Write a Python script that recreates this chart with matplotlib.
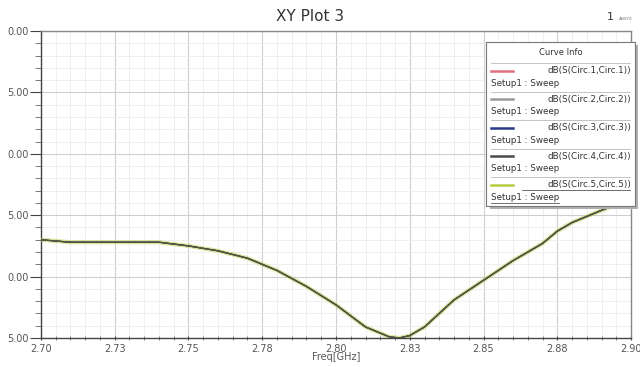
import matplotlib.pyplot as plt
from matplotlib.ticker import MultipleLocator
from matplotlib.patches import Rectangle

# frequency sweep (GHz) and return loss (dB)
freq = [2.700, 2.710, 2.740, 2.750, 2.760, 2.770, 2.780, 2.790, 2.800, 2.810,
        2.818, 2.8215, 2.825, 2.830, 2.840, 2.850, 2.860, 2.870, 2.875, 2.880,
        2.890, 2.900]
s_db = [-27.0, -27.2, -27.2, -27.5, -27.9, -28.5, -29.5, -30.8, -32.3, -34.1,
        -34.9, -35.0, -34.8, -34.1, -31.9, -30.3, -28.7, -27.3, -26.3, -25.6,
        -24.6, -23.7]

x_ticks = [2.700, 2.725, 2.750, 2.775, 2.800, 2.825, 2.850, 2.875, 2.900]
x_labels = ['2.70', '2.73', '2.75', '2.78', '2.80', '2.83', '2.85', '2.88', '2.90']
y_ticks = [-10, -15, -20, -25, -30, -35]
# labels are cut off at the left border in the original
y_labels = ['0.00', '5.00', '0.00', '5.00', '0.00', '5.00']

curve_names = ['dB(S(Circ.1,Circ.1))', 'dB(S(Circ.2,Circ.2))', 'dB(S(Circ.3,Circ.3))',
               'dB(S(Circ.4,Circ.4))', 'dB(S(Circ.5,Circ.5))']
curve_colors = ['#e07080', '#9a9a9a', '#2a3a8a', '#4a4a4a', '#b8cc40']

fig = plt.figure(figsize=(6.4, 3.67), dpi=100)
ax = fig.add_axes([0.064, 0.079, 0.922, 0.8365])

# all five curves lie on top of each other
ax.plot(freq, s_db, color=curve_colors[4], lw=3.0, alpha=0.5, zorder=3)
for c in curve_colors[:4]:
    ax.plot(freq, s_db, color=c, lw=0.8, zorder=4)
ax.plot(freq, s_db, color='#4d5a3a', lw=1.0, zorder=5)

ax.set_xlim(2.70, 2.90)
ax.set_ylim(-35, -10)
ax.set_xticks(x_ticks)
ax.set_xticklabels(x_labels)
ax.set_yticks(y_ticks)
ax.set_yticklabels(y_labels)
ax.xaxis.set_minor_locator(MultipleLocator(0.005))
ax.yaxis.set_minor_locator(MultipleLocator(1))

ax.grid(which='major', color='#cfcfcf', lw=0.8)
ax.grid(which='minor', color='#ececec', lw=0.6)
ax.set_axisbelow(True)

ax.tick_params(axis='both', which='major', labelsize=7, labelcolor='#555555',
               color='#444444', width=0.8)
ax.tick_params(axis='y', which='major', length=8, pad=1)
ax.tick_params(axis='y', which='minor', color='#666666', length=4, width=0.6)
ax.tick_params(axis='x', which='major', length=3, pad=2.5, direction='inout')
ax.tick_params(axis='x', which='minor', color='#666666', length=3, width=0.6, direction='inout')

for s in ['left', 'bottom']:
    ax.spines[s].set_color('#444444')
    ax.spines[s].set_linewidth(1.0)
for s in ['top', 'right']:
    ax.spines[s].set_color('#888888')
    ax.spines[s].set_linewidth(1.0)

ax.set_xlabel('Freq[GHz]', fontsize=7, color='#555555', labelpad=-1.2)
fig.text(0.485, 0.955, 'XY Plot 3', fontsize=11, color='#333333', ha='center', va='center')
fig.text(0.953, 0.955, '1', fontsize=8, color='#333333', ha='center', va='center')
fig.text(0.978, 0.948, 'ANSYS', fontsize=3, color='#777777', ha='center', va='center')

# "Curve Info" box drawn by hand like the HFSS legend
bx0, by0, bw, bh = 0.7545, 0.431, 0.252, 0.534
ax.add_patch(Rectangle((bx0 + 0.006, by0 - 0.012), bw, bh, transform=ax.transAxes,
                       facecolor='#b0b0b0', edgecolor='none', zorder=8, clip_on=False))
ax.add_patch(Rectangle((bx0, by0), bw, bh, transform=ax.transAxes,
                       facecolor='white', edgecolor='#777777', lw=0.8, zorder=9, clip_on=False))
ax.text(bx0 + bw / 2, by0 + bh - 0.035, 'Curve Info', transform=ax.transAxes,
        fontsize=6, color='#333333', ha='center', va='center', zorder=10)
row_h = (bh - 0.07) / len(curve_names)
for i, (name, c) in enumerate(zip(curve_names, curve_colors)):
    top = by0 + bh - 0.07 - i * row_h
    ax.plot([bx0 + 0.008, bx0 + bw - 0.008], [top, top], transform=ax.transAxes,
            color='#aaaaaa', lw=0.5, zorder=10, clip_on=False)
    ax.plot([bx0 + 0.008, bx0 + 0.045], [top - 0.025, top - 0.025], transform=ax.transAxes,
            color=c, lw=1.8, zorder=10, clip_on=False)
    ax.text(bx0 + bw - 0.006, top - 0.025, name, transform=ax.transAxes,
            fontsize=6.3, color='#333333', ha='right', va='center', zorder=10)
    ax.text(bx0 + 0.008, top - 0.066, 'Setup1 : Sweep', transform=ax.transAxes,
            fontsize=6.3, color='#333333', ha='left', va='center', zorder=10)
    if i == len(curve_names) - 1:
        ax.plot([bx0 + 0.06, bx0 + bw - 0.006], [top - 0.043, top - 0.043],
                transform=ax.transAxes, color='#333333', lw=0.5, zorder=10)
        ax.plot([bx0 + 0.008, bx0 + 0.123], [top - 0.084, top - 0.084],
                transform=ax.transAxes, color='#333333', lw=0.5, zorder=10)

fig.savefig('out.png', dpi=100)
